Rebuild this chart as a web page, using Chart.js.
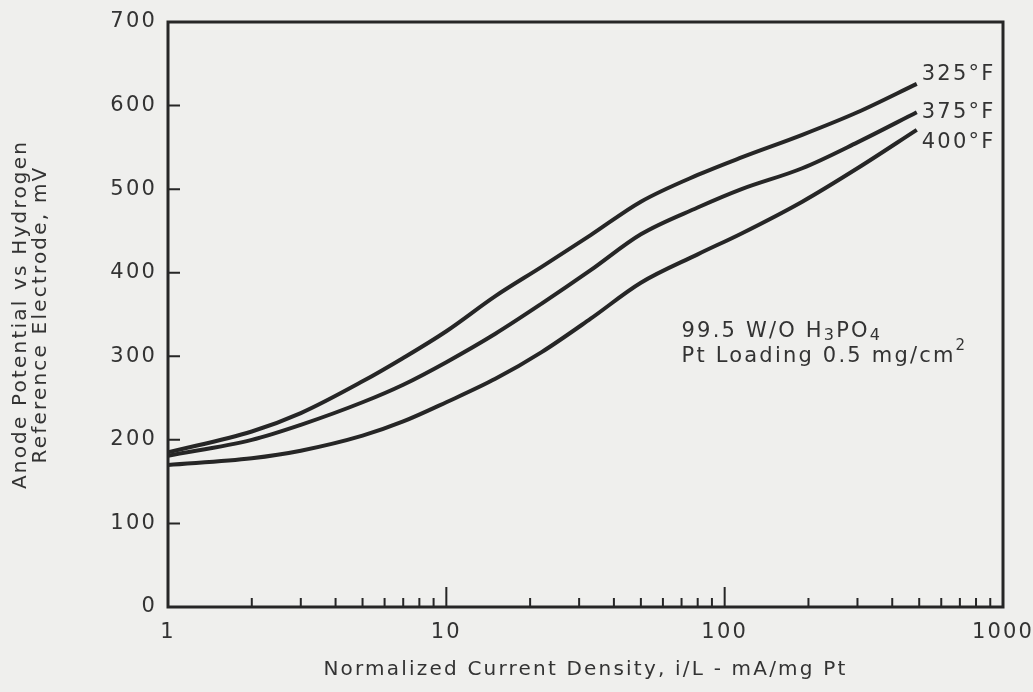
<!DOCTYPE html>
<html lang="en">
<head>
  <meta charset="UTF-8">
  <title>Anode Potential vs Normalized Current Density</title>
  <script src="https://cdn.jsdelivr.net/npm/chart.js"></script>
  <style>
    html, body {
      margin: 0;
      padding: 0;
      background: #efefed;
    }
    #wrap {
      width: 1033px;
      height: 692px;
    }
  </style>
</head>
<body>
  <div id="wrap"><canvas id="anodeChart"></canvas></div>

  <script>
    // values
    const currentDensity = [1, 2, 3, 5, 7, 10, 15, 22, 33, 50, 80, 115, 190, 300, 490];
    const potential325 = [185, 210, 232, 270, 298, 330, 372, 407, 445, 485, 517, 538, 565, 592, 626];
    const potential375 = [181, 200, 218, 245, 266, 293, 327, 363, 403, 446, 478, 500, 525, 556, 592];
    const potential400 = [170, 178, 187, 205, 222, 245, 273, 305, 345, 388, 422, 447, 485, 525, 571];
    const curveLabels = ['325°F', '375°F', '400°F'];
    const xTickValues = [1, 10, 100, 1000];
    // note text, with sub/superscript pieces
    const noteLines = [
      [{ t: '99.5 W/O H' }, { t: '3', sub: true }, { t: 'PO' }, { t: '4', sub: true }],
      [{ t: 'Pt Loading 0.5 mg/cm' }, { t: '2', sup: true }]
    ];

    const ink = '#262626';
    const textInk = '#333';
    const fontFamily = '"DejaVu Sans", sans-serif';
    const spacing = '2.2px';

    function toPoints(ys) {
      return currentDensity.map((x, i) => ({ x: x, y: ys[i] }));
    }

    function curve(ys) {
      return {
        data: toPoints(ys),
        borderColor: ink,
        borderWidth: 4,
        pointRadius: 0,
        cubicInterpolationMode: 'monotone',
        fill: false
      };
    }

    function drawRich(ctx, parts, x, y) {
      parts.forEach(p => {
        let size = 21, shift = 0;
        if (p.sub) { size = 16; shift = 5; }
        if (p.sup) { size = 15; shift = -10; }
        ctx.font = size + 'px ' + fontFamily;
        ctx.fillText(p.t, x, y + shift);
        x += ctx.measureText(p.t).width;
      });
    }

    // background, letter spacing of the scanned lettering
    const paperPlugin = {
      id: 'paper',
      beforeLayout(chart) {
        chart.ctx.letterSpacing = spacing;
      },
      beforeDraw(chart) {
        const ctx = chart.ctx;
        ctx.letterSpacing = spacing;
        ctx.save();
        ctx.fillStyle = '#efefed';
        ctx.fillRect(0, 0, chart.width, chart.height);
        ctx.restore();
      }
    };

    // box frame, inward ticks, curve labels and the note
    const framePlugin = {
      id: 'frame',
      afterDraw(chart) {
        const ctx = chart.ctx;
        const area = chart.chartArea;
        const xs = chart.scales.x;
        const ys = chart.scales.y;
        ctx.save();
        ctx.strokeStyle = ink;
        ctx.lineWidth = 3;
        ctx.strokeRect(area.left, area.top, area.right - area.left, area.bottom - area.top);

        ctx.lineWidth = 2;
        ctx.beginPath();
        [1, 10, 100].forEach(d => {
          for (let k = 2; k <= 9; k++) {
            const px = xs.getPixelForValue(k * d);
            ctx.moveTo(px, area.bottom);
            ctx.lineTo(px, area.bottom - 9);
          }
        });
        [10, 100].forEach(v => {
          const px = xs.getPixelForValue(v);
          ctx.moveTo(px, area.bottom);
          ctx.lineTo(px, area.bottom - 20);
        });
        for (let v = 100; v <= 600; v += 100) {
          const py = ys.getPixelForValue(v);
          ctx.moveTo(area.left, py);
          ctx.lineTo(area.left + 12, py);
        }
        ctx.stroke();

        ctx.fillStyle = textInk;
        ctx.font = '21px ' + fontFamily;
        ctx.textAlign = 'left';
        ctx.textBaseline = 'middle';
        const dy = [-9, 0, 13];
        curveLabels.forEach((txt, i) => {
          const pts = chart.getDatasetMeta(i).data;
          const last = pts[pts.length - 1];
          ctx.fillText(txt, last.x + 5, last.y + dy[i]);
        });

        const nx = xs.getPixelForValue(70);
        const ny = ys.getPixelForValue(330);
        noteLines.forEach((parts, i) => {
          drawRich(ctx, parts, nx, ny + i * 25);
        });
        ctx.restore();
      }
    };

    const ctx = document.getElementById('anodeChart').getContext('2d');
    const anodeChart = new Chart(ctx, {
      type: 'line',
      data: {
        datasets: [curve(potential325), curve(potential375), curve(potential400)]
      },
      options: {
        responsive: true,
        maintainAspectRatio: false,
        animation: false,
        events: [],
        layout: {
          padding: { top: 22, right: 30, left: 0, bottom: 0 }
        },
        plugins: {
          legend: { display: false },
          tooltip: { enabled: false }
        },
        scales: {
          x: {
            type: 'logarithmic',
            min: 1,
            max: 1000,
            grid: { display: false },
            border: { display: false },
            afterBuildTicks(scale) {
              scale.ticks = xTickValues.map(v => ({ value: v }));
            },
            afterFit(scale) {
              scale.height = 85;
              scale.paddingLeft = 0;
              scale.paddingRight = 0;
            },
            ticks: {
              color: textInk,
              padding: 5,
              maxRotation: 0,
              font: { family: fontFamily, size: 21 },
              callback: v => String(v)
            },
            title: {
              display: true,
              text: 'Normalized Current Density, i/L - mA/mg Pt',
              color: textInk,
              font: { family: fontFamily, size: 20, lineHeight: 1.2 },
              padding: { top: 0, bottom: 10 }
            }
          },
          y: {
            min: 0,
            max: 700,
            grid: { display: false },
            border: { display: false },
            afterFit(scale) {
              scale.width = 168;
              scale.paddingTop = 0;
              scale.paddingBottom = 0;
            },
            ticks: {
              stepSize: 100,
              color: textInk,
              padding: 3,
              font: { family: fontFamily, size: 21 }
            },
            title: {
              display: true,
              text: ['Anode Potential vs Hydrogen', 'Reference Electrode, mV'],
              color: textInk,
              font: { family: fontFamily, size: 20, lineHeight: '20px' },
              padding: { top: 11, bottom: 0 }
            }
          }
        }
      },
      plugins: [paperPlugin, framePlugin]
    });
  </script>
</body>
</html>
